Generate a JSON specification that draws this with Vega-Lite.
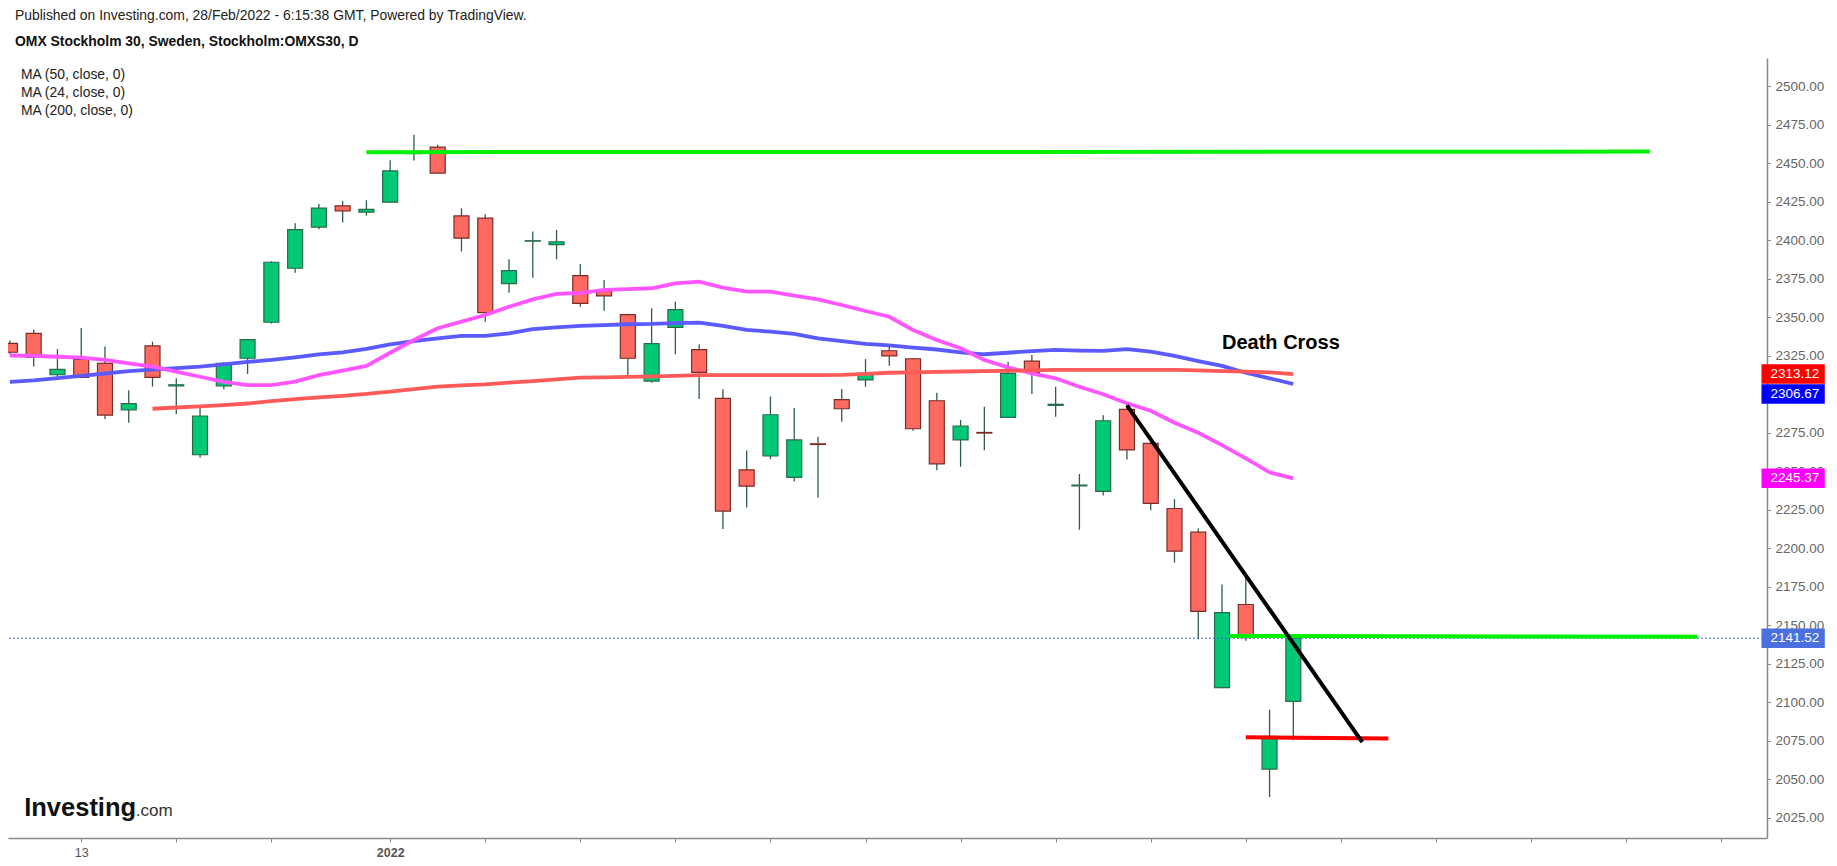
{
  "$schema": "https://vega.github.io/schema/vega-lite/v6.json",
  "description": "OMX Stockholm 30 daily candles with MA 50/24/200, Death Cross",
  "width": 1759,
  "height": 780,
  "autosize": {"type": "none"},
  "padding": {"left": 8, "top": 58, "right": 70, "bottom": 28},
  "background": "white",
  "config": {"view": {"stroke": null}, "font": "Liberation Sans"},
  "title": {
    "text": "Published on Investing.com, 28/Feb/2022 - 6:15:38 GMT, Powered by TradingView.",
    "subtitle": "OMX Stockholm 30, Sweden, Stockholm:OMXS30, D",
    "anchor": "start",
    "frame": "group",
    "dx": 7,
    "offset": 9,
    "font": "Liberation Sans",
    "fontSize": 13.9,
    "fontWeight": "normal",
    "color": "#222222",
    "subtitleFont": "Liberation Sans",
    "subtitleFontSize": 13.9,
    "subtitleFontWeight": "bold",
    "subtitleColor": "#111111",
    "subtitlePadding": 12
  },
  "datasets": {
    "daily": [
      {"i": -3, "o": 2333.1, "h": 2335.0, "l": 2326.0, "c": 2327.3, "ma50": 2308.0, "ma24": 2325.2, "ma200": null},
      {"i": -2, "o": 2339.6, "h": 2342.0, "l": 2318.0, "c": 2324.0, "ma50": 2309.0, "ma24": 2325.0, "ma200": null},
      {"i": -1, "o": 2312.7, "h": 2329.4, "l": 2309.3, "c": 2316.2, "ma50": 2310.5, "ma24": 2324.4, "ma200": null},
      {"i": 0, "o": 2322.7, "h": 2343.0, "l": 2310.5, "c": 2311.0, "ma50": 2312.0, "ma24": 2323.8, "ma200": null},
      {"i": 1, "o": 2320.1, "h": 2331.0, "l": 2284.0, "c": 2286.5, "ma50": 2313.5, "ma24": 2322.3, "ma200": null},
      {"i": 2, "o": 2289.9, "h": 2302.6, "l": 2281.5, "c": 2293.9, "ma50": 2315.0, "ma24": 2320.1, "ma200": null},
      {"i": 3, "o": 2331.4, "h": 2334.2, "l": 2305.0, "c": 2311.0, "ma50": 2316.0, "ma24": 2317.9, "ma200": 2290.6},
      {"i": 4, "o": 2305.4, "h": 2310.4, "l": 2287.2, "c": 2306.2, "ma50": 2317.0, "ma24": 2314.7, "ma200": 2291.4},
      {"i": 5, "o": 2260.7, "h": 2291.9, "l": 2259.0, "c": 2285.9, "ma50": 2318.0, "ma24": 2311.4, "ma200": 2292.2},
      {"i": 6, "o": 2305.4, "h": 2321.0, "l": 2303.2, "c": 2320.1, "ma50": 2319.5, "ma24": 2308.0, "ma200": 2293.0},
      {"i": 7, "o": 2323.4, "h": 2336.0, "l": 2313.2, "c": 2335.5, "ma50": 2321.0, "ma24": 2306.0, "ma200": 2294.0},
      {"i": 8, "o": 2346.8, "h": 2386.5, "l": 2346.0, "c": 2385.8, "ma50": 2322.3, "ma24": 2306.0, "ma200": 2295.5},
      {"i": 9, "o": 2381.9, "h": 2411.1, "l": 2379.0, "c": 2407.0, "ma50": 2324.0, "ma24": 2308.2, "ma200": 2296.8},
      {"i": 10, "o": 2408.6, "h": 2423.7, "l": 2407.3, "c": 2420.9, "ma50": 2326.0, "ma24": 2312.5, "ma200": 2298.0},
      {"i": 11, "o": 2422.4, "h": 2425.5, "l": 2411.6, "c": 2419.2, "ma50": 2327.3, "ma24": 2315.3, "ma200": 2299.0},
      {"i": 12, "o": 2418.3, "h": 2426.1, "l": 2416.1, "c": 2420.2, "ma50": 2329.5, "ma24": 2318.4, "ma200": 2300.2},
      {"i": 13, "o": 2424.8, "h": 2452.1, "l": 2424.5, "c": 2445.2, "ma50": 2332.5, "ma24": 2327.0, "ma200": 2301.8},
      {"i": 14, "o": 2456.4, "h": 2468.6, "l": 2451.9, "c": 2457.0, "ma50": 2334.5, "ma24": 2335.3, "ma200": 2303.4},
      {"i": 15, "o": 2460.6, "h": 2462.1, "l": 2443.5, "c": 2443.7, "ma50": 2336.4, "ma24": 2342.9, "ma200": 2305.0},
      {"i": 16, "o": 2415.9, "h": 2420.9, "l": 2392.7, "c": 2401.4, "ma50": 2337.9, "ma24": 2347.2, "ma200": 2305.8},
      {"i": 17, "o": 2414.4, "h": 2417.0, "l": 2347.2, "c": 2353.0, "ma50": 2337.9, "ma24": 2351.5, "ma200": 2306.5},
      {"i": 18, "o": 2371.9, "h": 2387.7, "l": 2366.0, "c": 2380.3, "ma50": 2339.6, "ma24": 2356.9, "ma200": 2307.6},
      {"i": 19, "o": 2399.5, "h": 2405.7, "l": 2375.8, "c": 2399.8, "ma50": 2342.4, "ma24": 2361.7, "ma200": 2308.6},
      {"i": 20, "o": 2397.3, "h": 2406.8, "l": 2387.7, "c": 2399.0, "ma50": 2343.5, "ma24": 2365.2, "ma200": 2309.7},
      {"i": 21, "o": 2377.1, "h": 2384.7, "l": 2356.9, "c": 2359.1, "ma50": 2344.4, "ma24": 2365.8, "ma200": 2310.8},
      {"i": 22, "o": 2367.4, "h": 2374.3, "l": 2354.3, "c": 2363.9, "ma50": 2345.0, "ma24": 2367.8, "ma200": 2311.0},
      {"i": 23, "o": 2351.7, "h": 2352.3, "l": 2310.8, "c": 2323.4, "ma50": 2345.5, "ma24": 2368.3, "ma200": 2311.3},
      {"i": 24, "o": 2308.6, "h": 2355.9, "l": 2307.5, "c": 2332.9, "ma50": 2345.7, "ma24": 2368.9, "ma200": 2311.6},
      {"i": 25, "o": 2343.5, "h": 2360.2, "l": 2326.0, "c": 2355.0, "ma50": 2346.3, "ma24": 2372.1, "ma200": 2312.0},
      {"i": 26, "o": 2329.0, "h": 2332.5, "l": 2296.9, "c": 2314.3, "ma50": 2346.5, "ma24": 2373.2, "ma200": 2312.5},
      {"i": 27, "o": 2297.4, "h": 2303.2, "l": 2212.4, "c": 2224.1, "ma50": 2344.4, "ma24": 2369.3, "ma200": 2312.5},
      {"i": 28, "o": 2250.9, "h": 2263.4, "l": 2226.5, "c": 2240.3, "ma50": 2341.8, "ma24": 2366.7, "ma200": 2312.5},
      {"i": 29, "o": 2259.9, "h": 2298.6, "l": 2257.9, "c": 2286.7, "ma50": 2340.7, "ma24": 2366.7, "ma200": 2312.5},
      {"i": 30, "o": 2246.0, "h": 2291.1, "l": 2243.4, "c": 2270.4, "ma50": 2339.2, "ma24": 2364.1, "ma200": 2312.5},
      {"i": 31, "o": 2267.8, "h": 2272.4, "l": 2232.7, "c": 2267.4, "ma50": 2336.4, "ma24": 2361.7, "ma200": 2312.5},
      {"i": 32, "o": 2296.5, "h": 2303.4, "l": 2282.2, "c": 2290.6, "ma50": 2334.6, "ma24": 2358.0, "ma200": 2312.6},
      {"i": 33, "o": 2309.3, "h": 2322.9, "l": 2304.9, "c": 2313.6, "ma50": 2332.7, "ma24": 2354.1, "ma200": 2313.2},
      {"i": 34, "o": 2328.3, "h": 2332.5, "l": 2318.6, "c": 2324.9, "ma50": 2331.8, "ma24": 2350.4, "ma200": 2314.0},
      {"i": 35, "o": 2323.1, "h": 2323.5, "l": 2276.3, "c": 2277.6, "ma50": 2330.3, "ma24": 2341.8, "ma200": 2314.3},
      {"i": 36, "o": 2295.8, "h": 2301.0, "l": 2250.7, "c": 2254.8, "ma50": 2329.1, "ma24": 2335.3, "ma200": 2314.5},
      {"i": 37, "o": 2270.4, "h": 2283.3, "l": 2252.9, "c": 2279.4, "ma50": 2327.3, "ma24": 2329.9, "ma200": 2314.8},
      {"i": 38, "o": 2275.2, "h": 2291.9, "l": 2263.7, "c": 2274.8, "ma50": 2326.0, "ma24": 2322.3, "ma200": 2315.0},
      {"i": 39, "o": 2285.0, "h": 2321.2, "l": 2284.8, "c": 2313.6, "ma50": 2327.0, "ma24": 2317.5, "ma200": 2315.3},
      {"i": 40, "o": 2321.6, "h": 2325.5, "l": 2300.2, "c": 2314.3, "ma50": 2328.1, "ma24": 2313.6, "ma200": 2315.6},
      {"i": 41, "o": 2292.8, "h": 2304.9, "l": 2285.4, "c": 2293.5, "ma50": 2328.8, "ma24": 2310.4, "ma200": 2315.8},
      {"i": 42, "o": 2240.5, "h": 2248.2, "l": 2212.0, "c": 2241.0, "ma50": 2328.4, "ma24": 2304.9, "ma200": 2315.8},
      {"i": 43, "o": 2236.9, "h": 2286.3, "l": 2234.3, "c": 2282.8, "ma50": 2328.2, "ma24": 2300.0, "ma200": 2315.8},
      {"i": 44, "o": 2290.2, "h": 2293.0, "l": 2257.7, "c": 2263.9, "ma50": 2329.4, "ma24": 2294.2, "ma200": 2315.8},
      {"i": 45, "o": 2268.1, "h": 2272.4, "l": 2224.7, "c": 2229.1, "ma50": 2327.7, "ma24": 2289.3, "ma200": 2315.8},
      {"i": 46, "o": 2225.8, "h": 2231.9, "l": 2190.7, "c": 2198.1, "ma50": 2324.9, "ma24": 2281.5, "ma200": 2315.8},
      {"i": 47, "o": 2210.4, "h": 2212.8, "l": 2140.9, "c": 2159.0, "ma50": 2321.6, "ma24": 2275.0, "ma200": 2315.5},
      {"i": 48, "o": 2109.4, "h": 2176.4, "l": 2109.0, "c": 2158.2, "ma50": 2318.4, "ma24": 2267.0, "ma200": 2315.1},
      {"i": 49, "o": 2163.4, "h": 2182.4, "l": 2139.8, "c": 2141.9, "ma50": 2314.0, "ma24": 2258.4, "ma200": 2314.7},
      {"i": 50, "o": 2056.5, "h": 2095.1, "l": 2038.3, "c": 2077.8, "ma50": 2310.4, "ma24": 2249.3, "ma200": 2314.3},
      {"i": 51, "o": 2100.5, "h": 2143.9, "l": 2075.2, "c": 2141.52, "ma50": 2306.67, "ma24": 2245.37, "ma200": 2313.12}
    ],
    "drawings": [
      {"id": "resistance", "i": 12, "p": 2457.3},
      {"id": "resistance", "i": 66, "p": 2457.7},
      {"id": "support", "i": 48.3, "p": 2143.0},
      {"id": "support", "i": 68, "p": 2142.4},
      {"id": "low", "i": 49, "p": 2077.2},
      {"id": "low", "i": 55, "p": 2076.3},
      {"id": "trend", "i": 44, "p": 2292.8},
      {"id": "trend", "i": 53.9, "p": 2074.0}
    ],
    "notes": [
      {"i": 48.0, "p": 2329.2, "text": "Death Cross"},
      {"i": -2.4, "p": 2025.75, "text": "Investing"},
      {"i": 2.3, "p": 2025.75, "text": ".com"}
    ]
  },
  "resolve": {"scale": {"color": "independent"}},
  "layer": [
    {
      "data": {"name": "daily"},
      "mark": {"type": "rule", "color": "#2f5d48", "strokeWidth": 1.3, "clip": true},
      "encoding": {
        "x": {
          "field": "i",
          "type": "quantitative",
          "title": null,
          "scale": {"domain": [-2.87, 70.72], "nice": false, "zero": false},
          "axis": {
            "orient": "bottom",
            "title": null,
            "grid": false,
            "values": [0, 4, 8, 13, 17, 21, 25, 29, 33, 37, 41, 45, 49, 53, 57, 61, 65, 69],
            "labelExpr": "datum.value == 0 ? '13' : datum.value == 13 ? '2022' : ''",
            "labelFont": "Liberation Sans",
            "labelFontSize": 12.5,
            "labelColor": "#555555",
            "labelFontWeight": {"condition": {"test": "datum.value == 13", "value": "bold"}, "value": "normal"},
            "labelPadding": 4,
            "tickSize": 4,
            "tickColor": "#888888",
            "domainColor": "#888888",
            "domainWidth": 1.5
          }
        },
        "y": {
          "field": "l",
          "type": "quantitative",
          "title": null,
          "scale": {"domain": [2011.7, 2518.5], "nice": false, "zero": false},
          "axis": {
            "orient": "right",
            "title": null,
            "grid": false,
            "values": [2025, 2050, 2075, 2100, 2125, 2150, 2175, 2200, 2225, 2250, 2275, 2300, 2325, 2350, 2375, 2400, 2425, 2450, 2475, 2500],
            "format": ".2f",
            "labelFont": "Liberation Sans",
            "labelFontSize": 13.5,
            "labelColor": "#666666",
            "labelAlign": "left",
            "labelBaseline": "middle",
            "labelPadding": 4.5,
            "tickSize": 3.5,
            "tickColor": "#888888",
            "domainColor": "#888888",
            "domainWidth": 1.5
          }
        },
        "y2": {"field": "h"}
      }
    },
    {
      "data": {"name": "daily"},
      "mark": {"type": "bar", "width": 15, "strokeWidth": 1.2, "clip": true},
      "encoding": {
        "x": {"field": "i", "type": "quantitative", "title": null},
        "y": {"field": "o", "type": "quantitative", "title": null},
        "y2": {"field": "c"},
        "color": {"condition": {"test": "datum.c >= datum.o", "value": "#00c875"}, "value": "#ff6a60"},
        "stroke": {"condition": {"test": "datum.c >= datum.o", "value": "#2a6b4b"}, "value": "#7a2c28"}
      }
    },
    {
      "data": {"name": "daily"},
      "transform": [
        {"fold": ["ma50", "ma24", "ma200"], "as": ["key", "v"]},
        {"filter": "isValid(datum.v)"}
      ],
      "mark": {"type": "line", "strokeWidth": 3.8, "clip": true, "interpolate": "linear"},
      "encoding": {
        "x": {"field": "i", "type": "quantitative", "title": null},
        "y": {"field": "v", "type": "quantitative", "title": null},
        "color": {
          "field": "key",
          "type": "nominal",
          "scale": {"domain": ["ma50", "ma24", "ma200"], "range": ["#5a5aff", "#ff55ff", "#ff5a5a"]},
          "legend": {
            "orient": "none",
            "legendX": -4,
            "legendY": 10,
            "title": null,
            "padding": 0,
            "labelExpr": "{'ma50': 'MA (50, close, 0)', 'ma24': 'MA (24, close, 0)', 'ma200': 'MA (200, close, 0)'}[datum.label]",
            "symbolSize": 0,
            "symbolStrokeWidth": 0,
            "symbolOpacity": 0,
            "labelFont": "Liberation Sans",
            "labelFontSize": 13.9,
            "labelColor": "#222222",
            "labelOffset": 3,
            "rowPadding": 3
          }
        }
      }
    },
    {
      "data": {"name": "daily"},
      "transform": [{"filter": "datum.i == 51"}],
      "mark": {"type": "rule", "color": "#3e64e0", "strokeWidth": 1, "strokeDash": [2, 2]},
      "encoding": {
        "y": {"field": "c", "type": "quantitative", "title": null}
      }
    },
    {
      "data": {"name": "drawings"},
      "mark": {"type": "line", "strokeWidth": 4, "strokeCap": "butt", "clip": true},
      "encoding": {
        "x": {"field": "i", "type": "quantitative", "title": null},
        "y": {"field": "p", "type": "quantitative", "title": null},
        "detail": {"field": "id"},
        "color": {
          "field": "id",
          "type": "nominal",
          "scale": {"domain": ["resistance", "support", "low", "trend"], "range": ["#00f000", "#00f000", "#ff0000", "#000000"]},
          "legend": null
        }
      }
    },
    {
      "data": {"name": "notes"},
      "transform": [{"filter": "datum.text == 'Death Cross'"}],
      "mark": {"type": "text", "align": "left", "baseline": "alphabetic", "font": "Liberation Sans", "fontSize": 20, "fontWeight": "bold", "color": "#000000"},
      "encoding": {
        "x": {"field": "i", "type": "quantitative", "title": null},
        "y": {"field": "p", "type": "quantitative", "title": null},
        "text": {"field": "text"}
      }
    },
    {
      "data": {"name": "notes"},
      "transform": [{"filter": "datum.text == 'Investing'"}],
      "mark": {"type": "text", "align": "left", "baseline": "alphabetic", "font": "Liberation Sans", "fontSize": 25.5, "fontWeight": "bold", "color": "#111111"},
      "encoding": {
        "x": {"field": "i", "type": "quantitative", "title": null},
        "y": {"field": "p", "type": "quantitative", "title": null},
        "text": {"field": "text"}
      }
    },
    {
      "data": {"name": "notes"},
      "transform": [{"filter": "datum.text == '.com'"}],
      "mark": {"type": "text", "align": "left", "baseline": "alphabetic", "font": "Liberation Sans", "fontSize": 17, "color": "#333333"},
      "encoding": {
        "x": {"field": "i", "type": "quantitative", "title": null},
        "y": {"field": "p", "type": "quantitative", "title": null},
        "text": {"field": "text"}
      }
    },
    {
      "data": {"name": "daily"},
      "transform": [
        {"filter": "datum.i == 51"},
        {"fold": ["ma200", "ma24", "c"], "as": ["key", "v"]}
      ],
      "mark": {"type": "point", "shape": "M-1,-0.308L1,-0.308L1,0.308L-1,0.308Z", "size": 4007, "filled": true, "opacity": 1, "strokeWidth": 0, "clip": false},
      "encoding": {
        "x": {"datum": 72.03, "type": "quantitative", "title": null},
        "y": {"field": "v", "type": "quantitative", "title": null},
        "color": {
          "field": "key",
          "type": "nominal",
          "scale": {"domain": ["ma200", "ma24", "c"], "range": ["#ff0000", "#ff00ff", "#4a70e0"]},
          "legend": null
        }
      }
    },
    {
      "data": {"name": "daily"},
      "transform": [
        {"filter": "datum.i == 51"},
        {"fold": ["ma50"], "as": ["key", "v"]}
      ],
      "mark": {"type": "point", "shape": "M-1,-0.308L1,-0.308L1,0.308L-1,0.308Z", "size": 4007, "filled": true, "opacity": 1, "strokeWidth": 0, "clip": false, "color": "#0000ff", "yOffset": 10},
      "encoding": {
        "x": {"datum": 72.03, "type": "quantitative", "title": null},
        "y": {"field": "v", "type": "quantitative", "title": null}
      }
    },
    {
      "data": {"name": "daily"},
      "transform": [
        {"filter": "datum.i == 51"},
        {"fold": ["ma200", "ma24", "c"], "as": ["key", "v"]}
      ],
      "mark": {"type": "text", "align": "center", "baseline": "middle", "font": "Liberation Sans", "fontSize": 13.5, "color": "#ffffff", "clip": false},
      "encoding": {
        "x": {"datum": 72.1, "type": "quantitative", "title": null},
        "y": {"field": "v", "type": "quantitative", "title": null},
        "text": {"field": "v", "type": "quantitative", "format": ".2f"}
      }
    },
    {
      "data": {"name": "daily"},
      "transform": [
        {"filter": "datum.i == 51"},
        {"fold": ["ma50"], "as": ["key", "v"]}
      ],
      "mark": {"type": "text", "align": "center", "baseline": "middle", "font": "Liberation Sans", "fontSize": 13.5, "color": "#ffffff", "clip": false, "yOffset": 10},
      "encoding": {
        "x": {"datum": 72.1, "type": "quantitative", "title": null},
        "y": {"field": "v", "type": "quantitative", "title": null},
        "text": {"field": "v", "type": "quantitative", "format": ".2f"}
      }
    }
  ]
}
